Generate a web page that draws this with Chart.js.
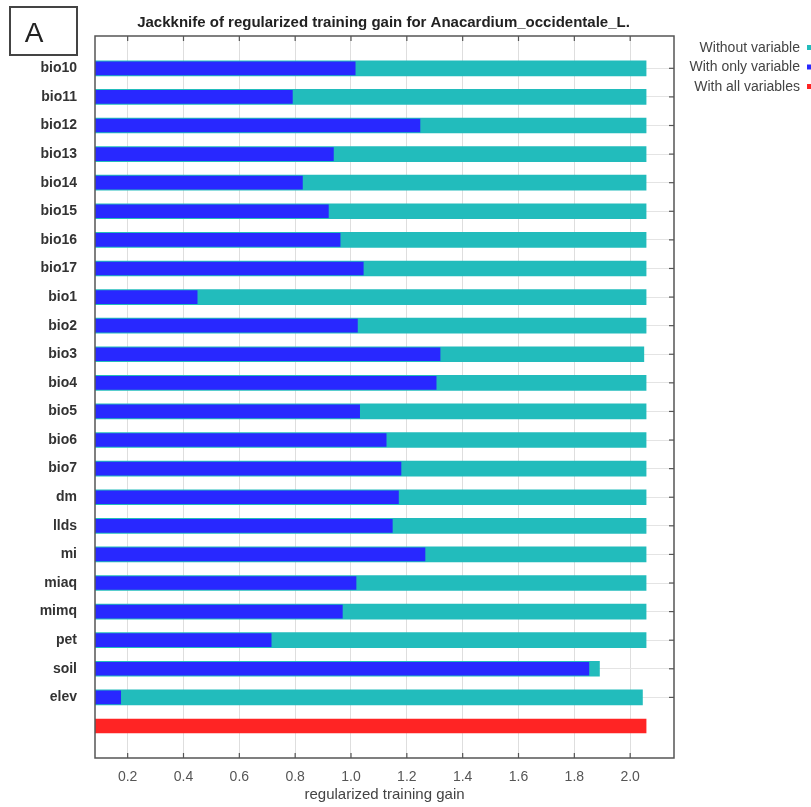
<!DOCTYPE html>
<html lang="en">
<head>
    <meta charset="UTF-8">
    <title>Jackknife of regularized training gain</title>
    <script src="https://cdn.jsdelivr.net/npm/chart.js"></script>
    <style>
        body {
            margin: 0;
            background: #fff;
        }
        #wrap {
            width: 811px;
            height: 807px;
        }
    </style>
</head>
<body>
    <div id="wrap">
        <canvas id="chartCanvas" width="811" height="807"></canvas>
    </div>

    <script>
        // data
        const variables = ["bio10", "bio11", "bio12", "bio13", "bio14", "bio15", "bio16", "bio17",
            "bio1", "bio2", "bio3", "bio4", "bio5", "bio6", "bio7", "dm", "llds", "mi",
            "miaq", "mimq", "pet", "soil", "elev"];
        const withoutVariable = [2.057, 2.057, 2.057, 2.057, 2.057, 2.057, 2.057, 2.057,
            2.057, 2.057, 2.049, 2.057, 2.057, 2.057, 2.057, 2.057, 2.057, 2.057,
            2.057, 2.057, 2.057, 1.890, 2.044];
        const withOnlyVariable = [1.015, 0.790, 1.247, 0.937, 0.826, 0.919, 0.961, 1.044,
            0.449, 1.023, 1.319, 1.305, 1.031, 1.126, 1.179, 1.170, 1.148, 1.265,
            1.018, 0.969, 0.714, 1.852, 0.175];
        const withAllVariables = 2.057;
        const xTicks = [0.2, 0.4, 0.6, 0.8, 1.0, 1.2, 1.4, 1.6, 1.8, 2.0];

        const FONT = "'Liberation Sans', Arial, sans-serif";
        const CYAN = "#22bcbc";
        const BLUE = "#2828ff";
        const RED = "#ff2424";

        // title, panel letter, legend, frame and inner tick marks
        const decor = {
            id: "decor",
            afterDraw(chart) {
                const ctx = chart.ctx;
                const a = chart.chartArea;
                const xs = chart.scales.x;
                const ys = chart.scales.y;
                ctx.save();

                // frame
                ctx.strokeStyle = "#555";
                ctx.lineWidth = 1.5;
                ctx.strokeRect(a.left, a.top, a.right - a.left, a.bottom - a.top);

                // tick marks pointing inward
                ctx.lineWidth = 1.2;
                xs.ticks.forEach(t => {
                    const px = xs.getPixelForValue(t.value);
                    ctx.beginPath();
                    ctx.moveTo(px, a.bottom); ctx.lineTo(px, a.bottom - 5);
                    ctx.moveTo(px, a.top); ctx.lineTo(px, a.top + 5);
                    ctx.stroke();
                });
                ys.ticks.forEach(t => {
                    const py = ys.getPixelForValue(t.value);
                    ctx.beginPath();
                    ctx.moveTo(a.right, py); ctx.lineTo(a.right - 5, py);
                    ctx.stroke();
                });

                // title
                ctx.fillStyle = "#222";
                ctx.font = "bold 15px " + FONT;
                ctx.textAlign = "center";
                ctx.textBaseline = "alphabetic";
                ctx.fillText("Jackknife of regularized training gain for Anacardium_occidentale_L.", (a.left + a.right) / 2 - 1, 27);

                // panel letter
                ctx.strokeStyle = "#444";
                ctx.lineWidth = 2;
                ctx.strokeRect(10, 7, 67, 48);
                ctx.font = "28px " + FONT;
                ctx.fillText("A", 34, 42);

                // legend, text right aligned with a small marker after it
                const items = [chart.data.datasets[1], chart.data.datasets[0], chart.data.datasets[2]];
                ctx.font = "14px " + FONT;
                ctx.textAlign = "right";
                ctx.textBaseline = "middle";
                items.forEach((ds, i) => {
                    const y = 48 + i * 19.5;
                    ctx.fillStyle = "#444";
                    ctx.fillText(ds.label, 800, y);
                    ctx.fillStyle = ds.backgroundColor;
                    ctx.fillRect(807, y - 3, 4, 5);
                });
                ctx.restore();
            }
        };

        const ctx = document.getElementById("chartCanvas").getContext("2d");
        new Chart(ctx, {
            type: "bar",
            data: {
                datasets: [
                    {
                        label: "With only variable",
                        data: withOnlyVariable.map((v, i) => ({ x: v, y: i })),
                        backgroundColor: BLUE,
                        barThickness: 13,
                        order: 1
                    },
                    {
                        label: "Without variable",
                        data: withoutVariable.map((v, i) => ({ x: v, y: i })),
                        backgroundColor: CYAN,
                        barThickness: 15,
                        order: 2
                    },
                    {
                        label: "With all variables",
                        data: [{ x: withAllVariables, y: variables.length }],
                        backgroundColor: RED,
                        barThickness: 14,
                        order: 3
                    }
                ]
            },
            options: {
                indexAxis: "y",
                responsive: false,
                animation: false,
                grouped: false,
                layout: { padding: { top: 36, right: 137, left: 0, bottom: 0 } },
                plugins: {
                    legend: { display: false },
                    tooltip: { enabled: false }
                },
                scales: {
                    x: {
                        type: "linear",
                        position: "bottom",
                        min: 0.083,
                        max: 2.157,
                        afterBuildTicks: s => { s.ticks = xTicks.map(v => ({ value: v })); },
                        afterFit: s => { s.height = 49; },
                        border: { display: false },
                        grid: { color: "#dedede", drawTicks: false },
                        ticks: {
                            padding: 11,
                            color: "#555",
                            font: { family: FONT, size: 14 },
                            callback: v => Number(v).toFixed(1)
                        },
                        title: {
                            display: true,
                            text: "regularized training gain",
                            color: "#444",
                            font: { family: FONT, size: 15 },
                            padding: { top: 0, bottom: 3 }
                        }
                    },
                    y: {
                        type: "linear",
                        reverse: true,
                        offset: false,
                        min: -1.13,
                        max: 24.12,
                        afterBuildTicks: s => { s.ticks = variables.map((_, i) => ({ value: i })); },
                        afterFit: s => { s.width = 95; },
                        border: { display: false },
                        grid: { color: "#e4e4e4", drawTicks: false, offset: false },
                        ticks: {
                            autoSkip: false,
                            padding: 18,
                            color: "#333",
                            font: { family: FONT, size: 14, weight: "bold" },
                            callback: v => variables[v] ?? ""
                        }
                    }
                }
            },
            plugins: [decor]
        });
    </script>
</body>
</html>
